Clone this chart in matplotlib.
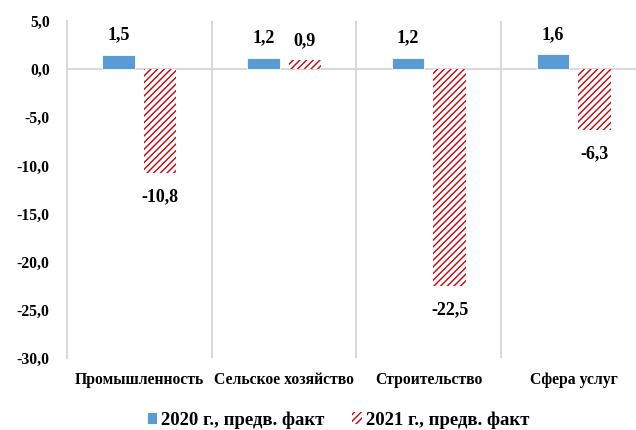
import matplotlib
matplotlib.use("Agg")
import matplotlib.pyplot as plt
import numpy as np

categories = ["Промышленность", "Сельское хозяйство", "Строительство", "Сфера услуг"]
values_2020 = [1.5, 1.2, 1.2, 1.6]
values_2021 = [-10.8, 0.9, -22.5, -6.3]
series_names = ["2020 г., предв. факт", "2021 г., предв. факт"]
yticks = [5, 0, -5, -10, -15, -20, -25, -30]

plt.rcParams['font.family'] = ['Liberation Serif', 'DejaVu Serif']
plt.rcParams['font.weight'] = 'bold'
plt.rcParams['hatch.linewidth'] = 1.0

fig = plt.figure(figsize=(6.36, 4.30), dpi=100)
ax = fig.add_axes([67/636, 1 - 358/430, (646-67)/636, (358-21)/430])

x = np.arange(len(categories))
w = 0.225
off = 0.143
blue = '#5B9BD5'
red = '#C8000A'

b1 = ax.bar(x - off, values_2020, w, color=blue, edgecolor='white', linewidth=0.6,
            label=series_names[0], zorder=3)
b2 = ax.bar(x + off, values_2021, w, facecolor='white', edgecolor=red, linewidth=0,
            hatch='/////', label=series_names[1], zorder=3)

def fmt(v):
    return f"{v:.1f}".replace('.', ',')

px = 72 / 100  # points per pixel
for bars, vals in ((b1, values_2020), (b2, values_2021)):
    for rect, v in zip(bars, vals):
        cx = rect.get_x() + rect.get_width() / 2
        dy = 15 * px if v >= 0 else -28 * px
        ax.annotate(fmt(v), (cx, v), xytext=(0, dy), textcoords='offset points',
                    ha='center', va='baseline', fontsize=13, fontweight='bold')

ax.set_ylim(-30, 5)
ax.set_xlim(-0.5, len(categories) - 0.5)
ax.set_yticks(yticks)
ax.set_yticklabels([fmt(t) for t in yticks], fontsize=11.3, fontweight='bold')
ax.tick_params(axis='y', length=0, pad=12.5)
ax.set_xticks([])

for s in ['top', 'right', 'bottom']:
    ax.spines[s].set_visible(False)
ax.spines['left'].set_color('#D9D9D9')
ax.spines['left'].set_linewidth(1.5)

for b in np.arange(0.5, len(categories) - 0.5, 1.0):
    ax.axvline(b, color='#D9D9D9', linewidth=1.5, zorder=1)
ax.axhline(0, color='#D9D9D9', linewidth=1.5, zorder=2)

for i, c in enumerate(categories):
    ax.annotate(c, (i, -30), xytext=(0, -26 * px), textcoords='offset points',
                ha='center', va='baseline', fontsize=11.3, fontweight='bold')

leg = fig.legend(handles=[b1, b2], labels=series_names, loc='center',
                 bbox_to_anchor=(338/636, 1 - 420/430), ncol=2, frameon=False,
                 fontsize=13.5, handlelength=0.55, handleheight=0.55,
                 handletextpad=0.2, columnspacing=1.5, borderpad=0)

fig.savefig("out.png", dpi=100)
